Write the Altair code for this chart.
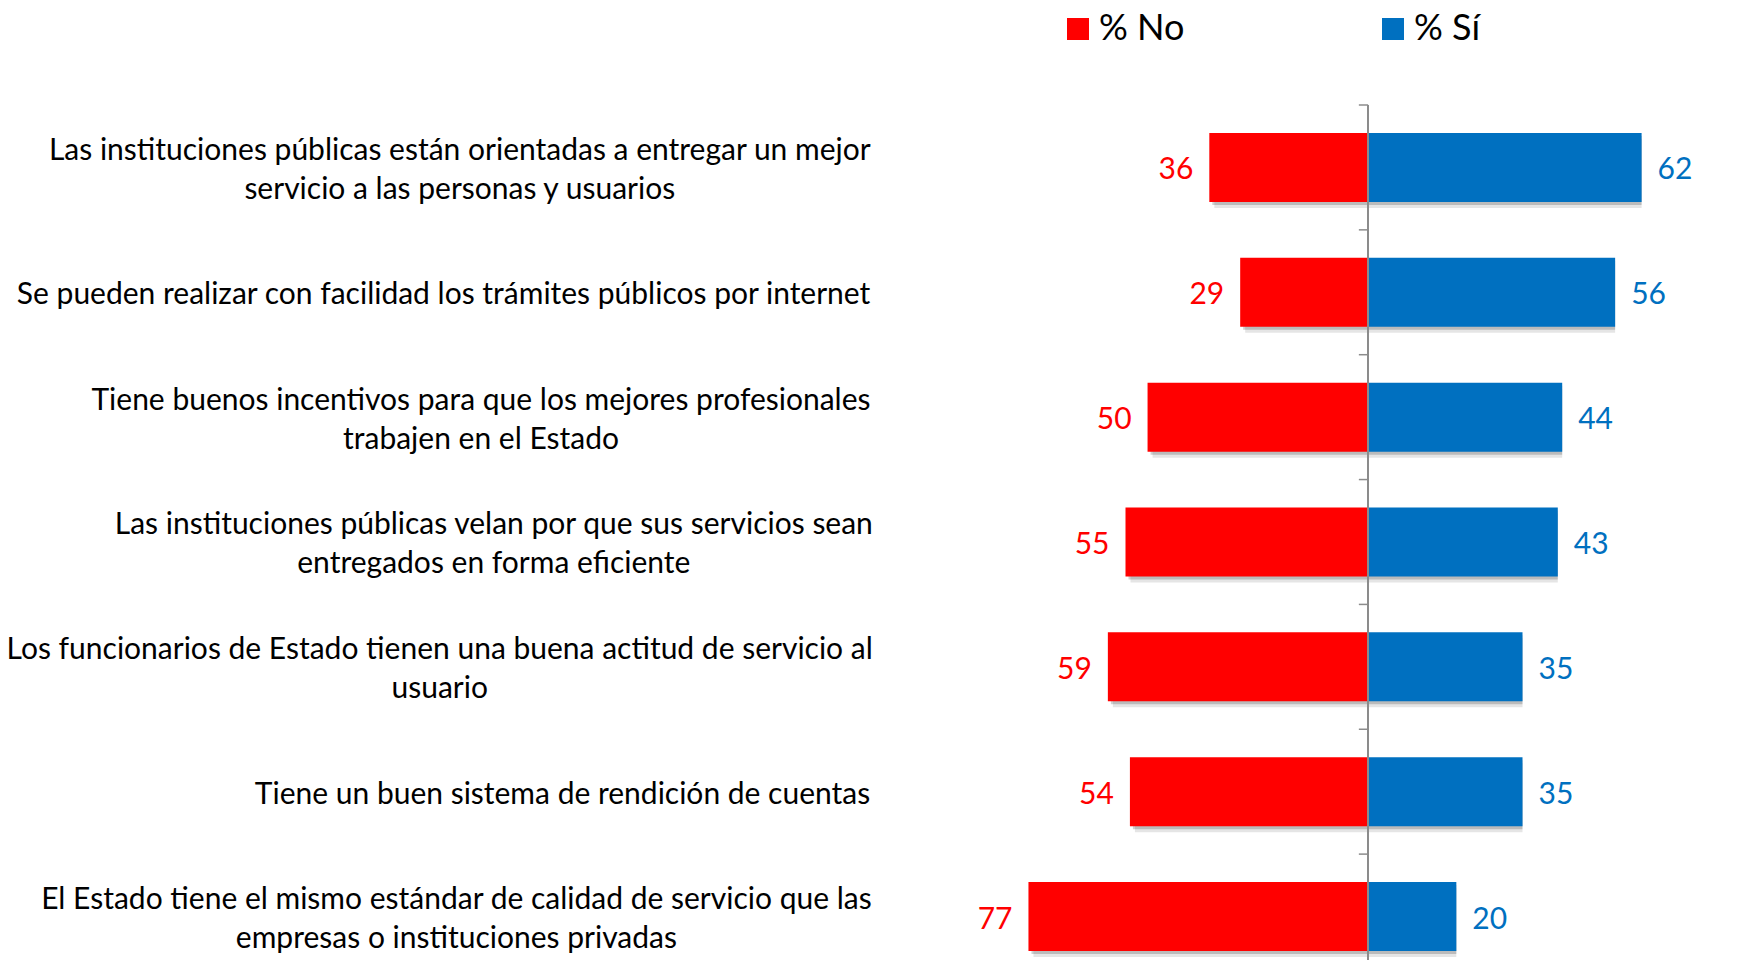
import altair as alt
import pandas as pd

# ---------------- data ----------------
categories = [
    "Las instituciones públicas están orientadas a entregar un mejor|servicio a las personas y usuarios",
    "Se pueden realizar con facilidad los trámites públicos por internet",
    "Tiene buenos incentivos para que los mejores profesionales|trabajen en el Estado",
    "Las instituciones públicas velan por que sus servicios sean|entregados en forma eficiente",
    "Los funcionarios de Estado tienen una buena actitud de servicio al|usuario",
    "Tiene un buen sistema de rendición de cuentas",
    "El Estado tiene el mismo estándar de calidad de servicio que las|empresas o instituciones privadas",
]
pct_no = [36, 29, 50, 55, 59, 54, 77]
pct_si = [62, 56, 44, 43, 35, 35, 20]
series = ["% No", "% Sí"]
colors = ["#FF0000", "#0070C0"]

# ---------------- layout (pixels) ----------------
PAD_LEFT, PAD_TOP, PAD_BOTTOM = 919, 97, 6
W, H = 794, 849
ORIGIN_X = 8 + PAD_LEFT
LINE_H = 39
TXT_DY = 3
# horizontal centre of each category label block (page px)
label_center_page = [459.8, 443.6, 481.0, 493.8, 439.7, 562.5, 456.4]

FONT = "Lato"
rows = [i + 0.5 for i in range(len(categories))]

base_df = pd.DataFrame({
    "row": rows,
    "cat": categories,
    "nlines": [c.count("|") + 1 for c in categories],
    "no": pct_no,
    "si": pct_si,
    "neg_no": [-v for v in pct_no],
    "lx": [c - ORIGIN_X for c in label_center_page],
})

long_df = pd.DataFrame({
    "row": rows + rows,
    "series": [series[0]] * len(rows) + [series[1]] * len(rows),
    "x0": [-v for v in pct_no] + [0] * len(rows),
    "x1": [0] * len(rows) + pct_si,
})

ticks_df = pd.DataFrame({"b": list(range(len(categories)))})

xs = alt.Scale(domain=[-100, 80], nice=False, zero=False, padding=0)
ys = alt.Scale(domain=[0, 6.8], reverse=True, nice=False, zero=False, padding=0)

shadow1 = alt.Chart(base_df).mark_bar(size=69, color="#000000", opacity=0.10, xOffset=5, yOffset=6).encode(
    x=alt.X("neg_no:Q", scale=xs, axis=None), x2="si:Q", y=alt.Y("row:Q", scale=ys, axis=None))
shadow2 = alt.Chart(base_df).mark_bar(size=69, color="#000000", opacity=0.18, xOffset=3, yOffset=3).encode(
    x=alt.X("neg_no:Q", scale=xs, axis=None), x2="si:Q", y=alt.Y("row:Q", scale=ys, axis=None))

bars = alt.Chart(long_df).mark_bar(size=69).encode(
    x=alt.X("x0:Q", scale=xs, axis=None),
    x2="x1:Q",
    y=alt.Y("row:Q", scale=ys, axis=None),
    color=alt.Color("series:N", scale=alt.Scale(domain=series, range=colors),
                    legend=alt.Legend(title=None, orient="none", direction="horizontal",
                                      legendX=133, legendY=-94, symbolType="square",
                                      symbolSize=484, symbolStrokeWidth=0, labelFontSize=36,
                                      labelFont=FONT, labelColor="#000000", labelOffset=3,
                                      columnPadding=190, padding=0)),
)

axis_line = alt.Chart(ticks_df).mark_rule(color="#8c8c8c", strokeWidth=1.5).encode(
    x=alt.datum(0, scale=xs), y=alt.value(0), y2=alt.value(H + 30))
axis_ticks = alt.Chart(ticks_df).mark_rule(color="#8c8c8c", strokeWidth=1.5).encode(
    x=alt.datum(-2.1, scale=xs), x2=alt.datum(0), y=alt.Y("b:Q", scale=ys, axis=None))

no_labels = alt.Chart(base_df).mark_text(align="right", baseline="middle", dx=-16, dy=TXT_DY,
                                         fontSize=30, font=FONT, color="#FF0000").encode(
    x=alt.X("neg_no:Q", scale=xs), y=alt.Y("row:Q", scale=ys), text="no:Q")
si_labels = alt.Chart(base_df).mark_text(align="left", baseline="middle", dx=16, dy=TXT_DY,
                                         fontSize=30, font=FONT, color="#0070C0").encode(
    x=alt.X("si:Q", scale=xs), y=alt.Y("row:Q", scale=ys), text="si:Q")

cat_one = alt.Chart(base_df).transform_filter(alt.datum.nlines == 1).mark_text(
    align="center", baseline="middle", lineBreak="|", lineHeight=LINE_H, fontSize=30,
    font=FONT, color="#000000", dy=TXT_DY).encode(
    x=alt.X("lx:Q", scale=None), y=alt.Y("row:Q", scale=ys), text="cat:N")
cat_two = alt.Chart(base_df).transform_filter(alt.datum.nlines == 2).mark_text(
    align="center", baseline="middle", lineBreak="|", lineHeight=LINE_H, fontSize=30,
    font=FONT, color="#000000", dy=-LINE_H / 2 + TXT_DY).encode(
    x=alt.X("lx:Q", scale=None), y=alt.Y("row:Q", scale=ys), text="cat:N")

chart = alt.layer(shadow1, shadow2, bars, axis_line, axis_ticks, no_labels, si_labels,
                  cat_one, cat_two).properties(
    width=W, height=H,
    background="white",
    autosize=alt.AutoSizeParams(type="none"),
    padding={"left": PAD_LEFT, "top": PAD_TOP, "right": 0, "bottom": PAD_BOTTOM},
).configure_view(stroke=None, strokeWidth=0)

chart.save("out.html", embed_options={"renderer": "svg", "actions": False})
